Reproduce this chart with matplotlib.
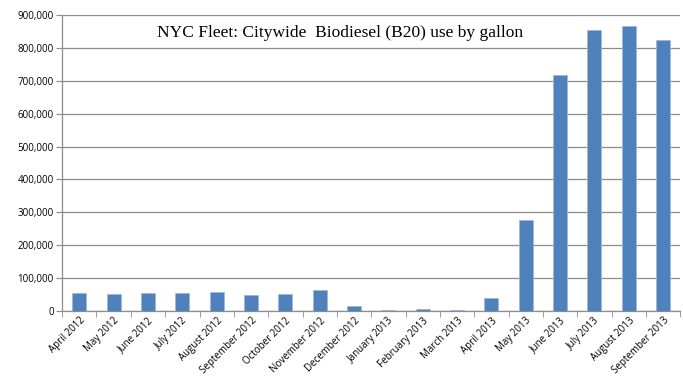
import numpy as np
import matplotlib
matplotlib.use("Agg")
import matplotlib.pyplot as plt
from matplotlib.ticker import FuncFormatter, FixedLocator

months = ["April 2012", "May 2012", "June 2012", "July 2012", "August 2012",
          "September 2012", "October 2012", "November 2012", "December 2012",
          "January 2013", "February 2013", "March 2013", "April 2013",
          "May 2013", "June 2013", "July 2013", "August 2013", "September 2013"]
gallons = [54000, 51000, 54000, 54000, 59000, 48500, 51000, 64000, 14000,
           3000, 6000, 3000, 39000, 276000, 718000, 854000, 866000, 825000]
yticks = list(range(0, 900001, 100000))

fig = plt.figure(figsize=(6.83, 3.85), dpi=100)
ax = fig.add_axes([0.091, 0.192, 0.905, 0.769])

x = np.arange(len(months))
ax.bar(x, gallons, width=0.41, color="#4F81BD", edgecolor="#9DB9DC", linewidth=0.6, zorder=3)

ax.set_xlim(-0.5, len(months) - 0.5)
ax.set_ylim(0, 900000)
ax.set_yticks(yticks)
ax.yaxis.set_major_formatter(FuncFormatter(lambda v, p: "{:,}".format(int(v))))
ax.grid(axis="y", color="#8C8C8C", linewidth=0.9, zorder=0)

ax.set_xticks(x)
ax.set_xticklabels(months, rotation=45, ha="right", rotation_mode="anchor",
                   fontsize=7, family="Open Sans")
ax.xaxis.set_minor_locator(FixedLocator(np.arange(-0.5, len(months), 1)))
ax.tick_params(axis="x", which="major", length=0, pad=3)
ax.tick_params(axis="x", which="minor", length=4, color="#8C8C8C")
ax.tick_params(axis="y", length=4, color="#8C8C8C", labelsize=7, pad=2)
for lab in ax.get_yticklabels():
    lab.set_family("Open Sans")

for s in ["top", "right"]:
    ax.spines[s].set_visible(False)
for s in ["left", "bottom"]:
    ax.spines[s].set_color("#8C8C8C")
    ax.spines[s].set_linewidth(0.9)

ax.text(0.45, 0.94, "NYC Fleet: Citywide  Biodiesel (B20) use by gallon",
        transform=ax.transAxes, ha="center", va="center",
        family="Liberation Serif", fontsize=12.5)

fig.savefig("out.png", dpi=100)
